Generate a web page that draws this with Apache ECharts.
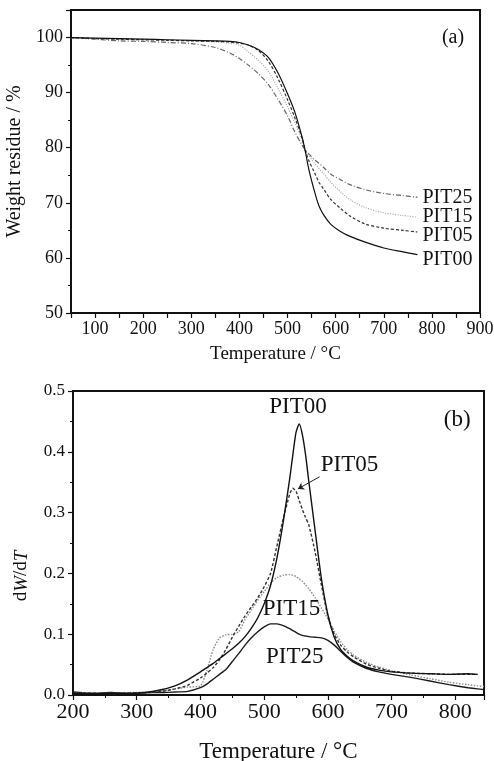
<!DOCTYPE html>
<html>
<head>
<meta charset="utf-8">
<script src="https://cdn.jsdelivr.net/npm/echarts@6/dist/echarts.min.js"></script>
<style>
  html, body { margin: 0; padding: 0; background: #fff; }
  #chart { width: 494px; height: 761px; }
</style>
</head>
<body>
<div id="chart"></div>
<script>
// (a) TGA curves: temperature / weight residue
const tgaTemp = [50, 100, 150, 200, 250, 300, 350, 380, 400, 420, 440, 460, 480, 500, 515, 530, 537, 545, 555, 565, 575, 590, 610, 630, 660, 700, 740, 770];
const tgaPIT00 = [100, 99.9, 99.8, 99.7, 99.6, 99.5, 99.4, 99.3, 99.1, 98.6, 97.8, 96.4, 93.6, 89.8, 86.5, 82.0, 79.3, 75.8, 72.4, 69.5, 67.8, 66.1, 64.8, 63.9, 62.9, 61.8, 61.1, 60.6];
const tgaPIT05 = [100, 99.8, 99.7, 99.6, 99.5, 99.4, 99.3, 99.2, 99.0, 98.6, 97.6, 95.7, 92.6, 88.7, 85.5, 81.8, 79.5, 77.5, 75.7, 73.8, 72.5, 70.6, 69.0, 67.6, 66.2, 65.4, 65.0, 64.7];
const tgaPIT15 = [100, 99.8, 99.7, 99.6, 99.5, 99.4, 99.2, 99.0, 98.6, 97.3, 95.8, 93.9, 90.8, 87.4, 84.6, 81.5, 79.5, 78.5, 77.3, 76.3, 75.3, 73.7, 72.0, 70.6, 69.2, 68.2, 67.7, 67.4];
const tgaPIT25 = [100, 99.7, 99.4, 99.3, 99.1, 98.9, 98.2, 97.2, 96.2, 94.9, 93.4, 91.5, 88.8, 85.8, 82.9, 80.5, 79.6, 78.8, 77.9, 77.2, 76.4, 75.2, 74.2, 73.3, 72.4, 71.7, 71.3, 71.0];

// (b) DTG curves: temperature / dW/dT
const dtgTemp = [200, 230, 260, 290, 320, 340, 360, 380, 400, 410, 420, 430, 440, 450, 460, 470, 480, 490, 500, 510, 520, 530, 540, 545, 550, 555, 560, 565, 570, 580, 590, 600, 610, 620, 630, 640, 660, 680, 700, 730, 760, 790, 820, 835, 845];
const dtgPIT00 = [0.003, 0.002, 0.003, 0.003, 0.005, 0.009, 0.015, 0.025, 0.038, 0.045, 0.052, 0.060, 0.068, 0.076, 0.085, 0.096, 0.110, 0.127, 0.150, 0.180, 0.225, 0.285, 0.355, 0.395, 0.432, 0.446, 0.428, 0.395, 0.352, 0.270, 0.190, 0.132, 0.095, 0.075, 0.064, 0.056, 0.046, 0.041, 0.038, 0.036, 0.035, 0.034, 0.035, 0.034, null];
const dtgPIT05 = [0.004, 0.003, 0.002, 0.003, 0.004, 0.006, 0.010, 0.016, 0.028, 0.036, 0.045, 0.058, 0.075, 0.095, 0.113, 0.130, 0.145, 0.160, 0.178, 0.200, 0.245, 0.290, 0.330, 0.340, 0.335, 0.320, 0.305, 0.292, 0.280, 0.235, 0.180, 0.130, 0.100, 0.082, 0.071, 0.063, 0.051, 0.044, 0.039, 0.036, 0.035, 0.034, 0.034, 0.034, null];
const dtgPIT15 = [0.003, 0.004, 0.003, 0.004, 0.005, 0.007, 0.010, 0.013, 0.015, 0.040, 0.075, 0.094, 0.099, 0.100, 0.104, 0.124, 0.140, 0.156, 0.170, 0.184, 0.193, 0.197, 0.198, 0.197, 0.195, 0.191, 0.187, 0.181, 0.175, 0.160, 0.143, 0.125, 0.105, 0.088, 0.075, 0.066, 0.054, 0.046, 0.040, 0.033, 0.027, 0.021, 0.017, 0.015, 0.014];
const dtgPIT25 = [0.005, 0.003, 0.004, 0.002, 0.004, 0.004, 0.005, 0.006, 0.012, 0.018, 0.026, 0.034, 0.042, 0.055, 0.068, 0.082, 0.094, 0.104, 0.112, 0.117, 0.117, 0.114, 0.109, 0.106, 0.103, 0.100, 0.098, 0.097, 0.096, 0.095, 0.094, 0.090, 0.082, 0.072, 0.062, 0.054, 0.044, 0.038, 0.034, 0.029, 0.023, 0.017, 0.012, 0.010, 0.009];

const SERIF = 'Liberation Serif';

function pairs(xs, ys) {
    return xs.map((x, i) => [x, ys[i]]);
}

// 小工具：在数据坐标处放一段文字
function textAt(coord, text, size) {
    return {
        coord: coord,
        value: text,
        symbol: 'circle',
        symbolSize: 0,
        label: { show: true, position: 'inside', formatter: text, fontFamily: SERIF, fontSize: size, color: '#111' }
    };
}

function tgaSeries(name, data, lineStyle, offset) {
    return {
        name: name,
        type: 'line',
        xAxisIndex: 0,
        yAxisIndex: 0,
        data: pairs(tgaTemp, data),
        showSymbol: false,
        smooth: 0.3,
        lineStyle: Object.assign({ width: 1.2 }, lineStyle),
        endLabel: {
            show: true,
            formatter: name,
            distance: 5,
            offset: offset,
            fontFamily: SERIF,
            fontSize: 20,
            color: '#111'
        }
    };
}

function dtgSeries(name, data, lineStyle) {
    return {
        name: name,
        type: 'line',
        xAxisIndex: 1,
        yAxisIndex: 1,
        data: pairs(dtgTemp, data),
        showSymbol: false,
        smooth: 0.2,
        connectNulls: false,
        lineStyle: Object.assign({ width: 1.4 }, lineStyle)
    };
}

const axisCommon = {
    axisLine: { show: true, lineStyle: { color: '#111', width: 2 } },
    axisTick: { show: true, inside: false, length: 5, lineStyle: { color: '#111', width: 1.2 } },
    minorTick: { show: true, splitNumber: 2, length: 3, lineStyle: { color: '#111', width: 1 } },
    splitLine: { show: false }
};

const chart = echarts.init(document.getElementById('chart'));

const series = [
    tgaSeries('PIT25', tgaPIT25, { color: '#666', type: [5, 2, 1, 2] }, [0, 0]),
    tgaSeries('PIT15', tgaPIT15, { color: '#a0a0a0', type: [1, 1.5] }, [0, 0]),
    tgaSeries('PIT05', tgaPIT05, { color: '#333', type: [3, 2] }, [0, 4]),
    tgaSeries('PIT00', tgaPIT00, { color: '#111', type: 'solid' }, [0, 5]),
    dtgSeries('PIT25', dtgPIT25, { color: '#1a1a1a' }),
    dtgSeries('PIT15', dtgPIT15, { color: '#8a8a8a', type: [1.5, 1.5] }),
    dtgSeries('PIT05', dtgPIT05, { color: '#333', type: [3, 2] }),
    dtgSeries('PIT00', dtgPIT00, { color: '#111' })
];

// 面板标签和曲线名
series[0].markPoint = { silent: true, data: [textAt([844, 100], '(a)', 20)] };
series[7].markPoint = {
    silent: true,
    data: [
        textAt([553, 0.474], 'PIT00', 23),
        textAt([803, 0.452], '(b)', 23),
        textAt([634, 0.378], 'PIT05', 23),
        textAt([543, 0.141], 'PIT15', 23),
        textAt([548, 0.0625], 'PIT25', 23)
    ]
};
series[6].markLine = {
    silent: true,
    symbol: ['none', 'arrow'],
    symbolSize: 6,
    label: { show: false },
    lineStyle: { color: '#222', type: 'solid', width: 1 },
    data: [[{ coord: [587, 0.359] }, { coord: [553, 0.339] }]]
};

chart.setOption({
    animation: false,
    backgroundColor: '#fff',
    grid: [
        { left: 71, right: 14, top: 10, height: 303, outerBoundsMode: 'none', show: true, borderColor: '#111', borderWidth: 2, backgroundColor: 'transparent' },
        { left: 73, right: 10, top: 391, height: 304, outerBoundsMode: 'none', show: true, borderColor: '#111', borderWidth: 2, backgroundColor: 'transparent' }
    ],
    xAxis: [
        Object.assign({}, axisCommon, {
            type: 'value', gridIndex: 0, min: 50, max: 900, interval: 50,
            minorTick: { show: false },
            axisLabel: {
                fontFamily: SERIF, fontSize: 18, color: '#111', margin: 7,
                formatter: v => (v % 100 === 0 ? String(v) : '')
            },
            name: 'Temperature / °C', nameLocation: 'middle', nameGap: 32,
            nameTextStyle: { fontFamily: SERIF, fontSize: 19, color: '#111' }
        }),
        Object.assign({}, axisCommon, {
            type: 'value', gridIndex: 1, min: 200, max: 845, interval: 100,
            axisLabel: { fontFamily: SERIF, fontSize: 22, color: '#111', margin: 6, showMaxLabel: false },
            name: 'Temperature / °C', nameLocation: 'middle', nameGap: 45,
            nameTextStyle: { fontFamily: SERIF, fontSize: 23, color: '#111' }
        })
    ],
    yAxis: [
        Object.assign({}, axisCommon, {
            type: 'value', gridIndex: 0, min: 50, max: 105, interval: 10,
            axisLabel: { fontFamily: SERIF, fontSize: 18, color: '#111', margin: 8, showMaxLabel: false },
            name: 'Weight residue / %', nameLocation: 'middle', nameGap: 40,
            nameTextStyle: { fontFamily: SERIF, fontSize: 20, color: '#111' }
        }),
        Object.assign({}, axisCommon, {
            type: 'value', gridIndex: 1, min: 0, max: 0.5, interval: 0.1,
            axisLabel: { fontFamily: SERIF, fontSize: 17, color: '#111', margin: 8, formatter: v => v.toFixed(1) },
            name: '{n|d}{i|W}{n|/d}{i|T}', nameLocation: 'middle', nameGap: 42,
            nameTextStyle: {
                color: '#111',
                padding: [0, 66, 0, 0],
                rich: {
                    n: { fontFamily: SERIF, fontSize: 19, color: '#111' },
                    i: { fontFamily: SERIF, fontSize: 19, fontStyle: 'italic', color: '#111' }
                }
            }
        })
    ],
    series: series
});
</script>
</body>
</html>
